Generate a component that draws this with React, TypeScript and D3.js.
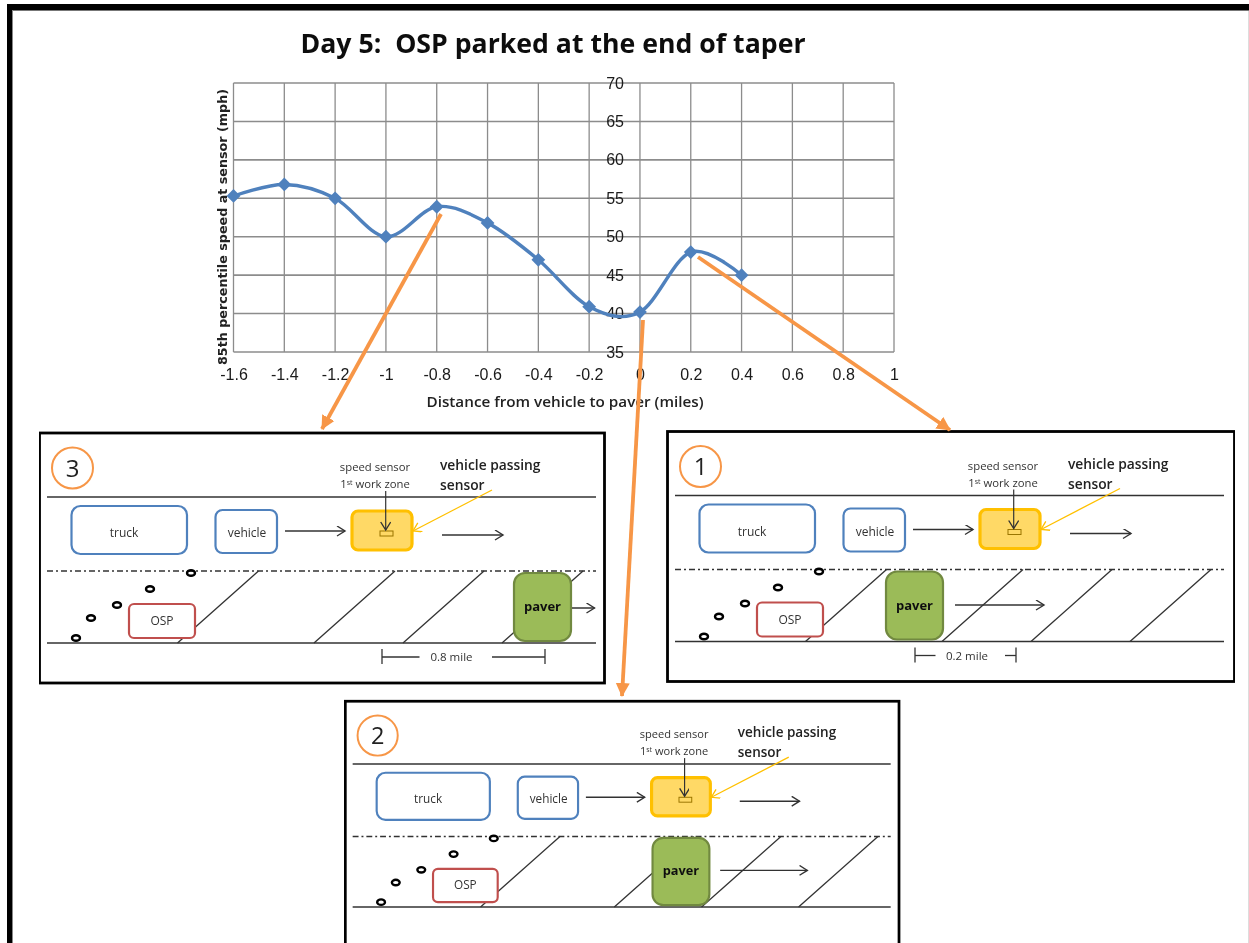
import React from "react";
import * as d3 from "d3";

const distances = [-1.6, -1.4, -1.2, -1, -0.8, -0.6, -0.4, -0.2, 0, 0.2, 0.4];
const speeds = [55.3, 56.8, 55, 50, 53.9, 51.8, 47, 40.9, 40.2, 48, 45];
const xTicks = [-1.6, -1.4, -1.2, -1, -0.8, -0.6, -0.4, -0.2, 0, 0.2, 0.4, 0.6, 0.8, 1];
const yTicks = [35, 40, 45, 50, 55, 60, 65, 70];

const TITLE = "Day 5:  OSP parked at the end of taper";
const X_LABEL = "Distance from vehicle to paver (miles)";
const Y_LABEL = "85th percentile speed at sensor (mph)";

// road markings of a panel, in the coordinates of panel 3
const stripeFeet = [177.5, 314, 403, 502];
const cones = [[76, 638], [91, 618], [117, 605], [150, 589], [191, 573]];

type PanelSpec = {
	id: string;
	tx: number;
	ty: number;
	k: number;
	frameWidth: number;
	paver: [number, number, number, number];
	paverArrow: [number, number, number];
	dim?: { x0: number; x1: number; gap0: number; gap1: number; labelX: number; label: string };
};

const panels: PanelSpec[] = [
	{
		id: "3", tx: 0, ty: 0, k: 1, frameWidth: 565,
		paver: [514, 573, 57, 68],
		paverArrow: [572, 594.5, 608],
		dim: { x0: 382, x1: 545, gap0: 419.5, gap1: 492, labelX: 451.5, label: "0.8 mile" },
	},
	{
		id: "1", tx: 628, ty: -1.5, k: 1, frameWidth: 567,
		paver: [258, 573, 57, 68],
		paverArrow: [327, 416, 606.5],
		dim: { x0: 287, x1: 388, gap0: 307.5, gap1: 377, labelX: 339, label: "0.2 mile" },
	},
	{
		id: "2", tx: 306.6, ty: 276.9, k: 0.98, frameWidth: 565,
		paver: [353, 572.5, 58, 68.5],
		paverArrow: [422, 511, 605.6],
	},
];

const connectors = [
	[441, 214, 322, 429],
	[643, 320, 622, 696],
	[698, 257, 950, 430],
];

const bodyFont = "'Open Sans', 'Liberation Sans', sans-serif";

function Axis({ scale, orient, tx, ty }: any) {
	const ref = React.useRef<SVGGElement | null>(null);
	React.useEffect(() => {
		const axis = orient === "bottom" ? d3.axisBottom(scale) : d3.axisLeft(scale);
		const g = d3.select(ref.current);
		g.call(axis.tickSize(0).tickPadding(0).tickFormat((d: any) => String(d)) as any);
		g.select(".domain").remove();
		g.selectAll("text").attr("font-size", 16).attr("font-family", "'Liberation Sans', sans-serif").attr("fill", "#1a1a1a");
	}, []);
	return <g ref={ref} transform={`translate(${tx},${ty})`} />;
}

function Panel({ p }: { p: PanelSpec }) {
	const [px, py, pw, ph] = p.paver;
	const t = { fontFamily: bodyFont, fill: "#333", textAnchor: "middle" as const };
	return (
		<g transform={`translate(${p.tx},${p.ty}) scale(${p.k})`}>
			<rect x={39.5} y={433} width={p.frameWidth} height={250} fill="#fff" stroke="#000" strokeWidth={2.8} />
			<circle cx={72.5} cy={468} r={20.5} fill="none" stroke="#f79646" strokeWidth={2} />
			<text x={72.5} y={476.5} fontSize={24} {...t} fill="#222">{p.id}</text>

			<line x1={47} x2={596} y1={497} y2={497} stroke="#333" strokeWidth={1.5} />
			<line x1={47} x2={596} y1={571} y2={571} stroke="#333" strokeWidth={1.5} strokeDasharray="6 3 2 3" />
			<line x1={47} x2={596} y1={643} y2={643} stroke="#333" strokeWidth={1.5} />
			{stripeFeet.map((x) => (
				<line key={x} x1={x} y1={643} x2={x + 81} y2={571} stroke="#333" strokeWidth={1.3} />
			))}
			{cones.map(([x, y]) => (
				<ellipse key={x} cx={x} cy={y} rx={4} ry={2.8} fill="none" stroke="#000" strokeWidth={2.4} />
			))}

			<rect x={71.5} y={506} width={115.5} height={48} rx={9} fill="#fff" stroke="#4f81bd" strokeWidth={2.2} />
			<text x={124} y={537} fontSize={12} {...t}>truck</text>
			<rect x={215.5} y={510} width={61.5} height={43} rx={7} fill="#fff" stroke="#4f81bd" strokeWidth={2.2} />
			<text x={247} y={537} fontSize={12} {...t}>vehicle</text>
			<rect x={129} y={604} width={66} height={34} rx={5} fill="#fff" stroke="#c0504d" strokeWidth={2.2} />
			<text x={162} y={625} fontSize={12} {...t}>OSP</text>

			<line x1={285} x2={345} y1={531} y2={531} stroke="#333" strokeWidth={1.5} markerEnd="url(#open)" />
			<line x1={442} x2={503} y1={535} y2={535} stroke="#333" strokeWidth={1.5} markerEnd="url(#open)" />

			<rect x={352} y={511} width={60} height={39} rx={6} fill="#ffd966" stroke="#ffc000" strokeWidth={3.2} />
			<rect x={380} y={531} width={13} height={5} fill="none" stroke="#9a7400" strokeWidth={1} />
			<line x1={385.7} x2={385.7} y1={491} y2={530} stroke="#333" strokeWidth={1.2} markerEnd="url(#open)" />
			<line x1={492} y1={490} x2={413} y2={531} stroke="#ffc000" strokeWidth={1.3} markerEnd="url(#openYellow)" />

			<text x={375} y={471} fontSize={11.3} {...t}>speed sensor</text>
			<text x={375} y={488} fontSize={11.3} {...t}>
				1<tspan fontSize={7} dy={-3}>st</tspan><tspan dy={3}> work zone</tspan>
			</text>
			<text x={440} y={470} fontSize={13.8} fontWeight={600} fontFamily={bodyFont} fill="#222">vehicle passing</text>
			<text x={440} y={490} fontSize={13.8} fontWeight={600} fontFamily={bodyFont} fill="#222">sensor</text>

			<rect x={px} y={py} width={pw} height={ph} rx={11} fill="#9bbb59" stroke="#71893f" strokeWidth={2.2} />
			<text x={px + pw / 2} y={py + ph / 2 + 4} fontSize={13} fontWeight={700} {...t} fill="#111">paver</text>
			<line x1={p.paverArrow[0]} x2={p.paverArrow[1]} y1={p.paverArrow[2]} y2={p.paverArrow[2]} stroke="#333" strokeWidth={1.5} markerEnd="url(#open)" />

			{p.dim && (
				<g stroke="#333" strokeWidth={1.3}>
					<line x1={p.dim.x0} x2={p.dim.x0} y1={649} y2={664} />
					<line x1={p.dim.x0} x2={p.dim.gap0} y1={657} y2={657} />
					<line x1={p.dim.gap1} x2={p.dim.x1} y1={657} y2={657} />
					<line x1={p.dim.x1} x2={p.dim.x1} y1={649} y2={664} />
					<text x={p.dim.labelX} y={661} fontSize={11.5} stroke="none" {...t}>{p.dim.label}</text>
				</g>
			)}
		</g>
	);
}

export default function App() {
	const x = d3.scaleLinear().domain([-1.6, 1]).range([233.5, 894]);
	const y = d3.scaleLinear().domain([35, 70]).range([352, 83]);

	const line = d3
		.line<number>()
		.x((_, i) => x(distances[i]))
		.y((d) => y(d))
		.curve(d3.curveCardinal.tension(0));

	// Excel's marker is a square standing on its corner
	const marker = d3.symbol().type(d3.symbolSquare).size(95)();

	return (
		<svg width={1249} height={943} style={{ position: "absolute", left: 0, top: 0, background: "#fff" }}>
			<defs>
				<filter id="soft" x="0" y="0" width="100%" height="100%">
					<feGaussianBlur stdDeviation="0.4" />
				</filter>
				<marker id="open" markerWidth={12} markerHeight={12} refX={9} refY={5} orient="auto" markerUnits="userSpaceOnUse">
					<path d="M1,0 L9,5 L1,10" fill="none" stroke="#333" strokeWidth={1.4} />
				</marker>
				<marker id="openYellow" markerWidth={12} markerHeight={12} refX={9} refY={5} orient="auto" markerUnits="userSpaceOnUse">
					<path d="M1,0 L9,5 L1,10" fill="none" stroke="#ffc000" strokeWidth={1.3} />
				</marker>
				<marker id="orangeHead" markerWidth={16} markerHeight={16} refX={13} refY={7} orient="auto" markerUnits="userSpaceOnUse">
					<path d="M0,0 L14,7 L0,14 Z" fill="#f79646" />
				</marker>
			</defs>

			{/* page border */}
			<rect x={7} y={4} width={1242} height={6} fill="#000" />
			<rect x={12} y={10} width={1237} height={1} fill="#777" />
			<rect x={7} y={4} width={5} height={939} fill="#000" />
			<rect x={12} y={10} width={1} height={933} fill="#888" />
			<rect x={1248} y={11} width={1} height={932} fill="#ddd" />

			<g filter="url(#soft)">
				<text x={553} y={53} textAnchor="middle" fontSize={27} fontWeight={700} fontFamily={bodyFont} fill="#111" textLength={505} lengthAdjust="spacingAndGlyphs" xmlSpace="preserve">
					{TITLE}
				</text>

				{/* grid */}
				{xTicks.map((d) => (
					<line key={d} x1={x(d)} x2={x(d)} y1={y(70)} y2={y(35)} stroke="#8c8c8c" strokeWidth={1.3} />
				))}
				{yTicks.map((d) => (
					<line key={d} x1={x(-1.6)} x2={x(1)} y1={y(d)} y2={y(d)} stroke="#8c8c8c" strokeWidth={1.6} />
				))}

				<Axis scale={x} orient="bottom" tx={0} ty={y(35) + 17} />
				<Axis scale={y} orient="left" tx={x(0) - 16} ty={0} />

				<path d={line(speeds) ?? ""} fill="none" stroke="#4f81bd" strokeWidth={3.4} />
				{speeds.map((d, i) => (
					<path key={i} d={marker ?? ""} transform={`translate(${x(distances[i])},${y(d)}) rotate(45)`} fill="#4f81bd" />
				))}

				<text x={565} y={407} textAnchor="middle" fontSize={14} fontWeight={600} fontFamily={bodyFont} fill="#222" textLength={277} lengthAdjust="spacingAndGlyphs">
					{X_LABEL}
				</text>
				<text transform="translate(227,227) rotate(-90)" textAnchor="middle" fontSize={12} fontWeight={700} fontFamily="'DejaVu Sans', sans-serif" fill="#222" textLength={276} lengthAdjust="spacingAndGlyphs">
					{Y_LABEL}
				</text>

				{panels.map((p) => (
					<Panel key={p.id} p={p} />
				))}

				{connectors.map(([x1, y1, x2, y2]) => (
					<line key={x1} x1={x1} y1={y1} x2={x2} y2={y2} stroke="#f79646" strokeWidth={3.8} markerEnd="url(#orangeHead)" />
				))}
			</g>
		</svg>
	);
}
